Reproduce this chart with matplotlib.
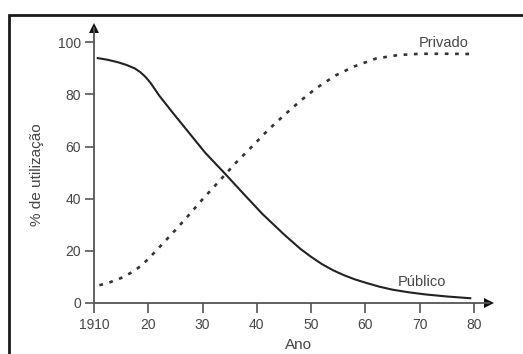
import matplotlib
matplotlib.use("Agg")
import matplotlib.pyplot as plt
from matplotlib.lines import Line2D

# Share of use (%) over the years, public vs private
anos_publico = [1910.5, 1912.5, 1914.5, 1916, 1917.5, 1918.5, 1919.5, 1920.5,
                1922, 1924.5, 1927.5, 1930.5, 1934, 1937.5, 1941, 1945, 1948,
                1950, 1952, 1954, 1956, 1958, 1960, 1962.5, 1965, 1968,
                1971, 1975, 1979.5]
publico = [94.0, 93.3, 92.3, 91.3, 90.0, 88.6, 86.7, 84.2,
           79.6, 73.0, 65.3, 57.6, 49.9, 42.0, 34.2, 26.3, 20.8,
           17.7, 14.9, 12.6, 10.7, 9.1, 7.8, 6.3, 5.1, 4.1,
           3.3, 2.5, 1.8]

anos_privado = [1911, 1913, 1915, 1917, 1918.5, 1920, 1922.5, 1925, 1927.5,
                1930, 1933, 1936, 1939, 1942, 1945, 1948, 1951, 1954.5,
                1958, 1962, 1966, 1970, 1975, 1980]
privado = [6.8, 8.0, 9.6, 11.8, 14.0, 16.9, 22.4, 28.0, 33.8,
           39.8, 46.6, 53.5, 59.8, 66.2, 72.0, 77.5, 82.5, 87.3,
           90.8, 93.8, 95.1, 95.6, 95.6, 95.5]

x_ticks = [1910, 1920, 1930, 1940, 1950, 1960, 1970, 1980]
x_tick_labels = ["1910", "20", "30", "40", "50", "60", "70", "80"]
y_ticks = [0, 20, 40, 60, 80, 100]

plt.rcParams['font.family'] = ['Liberation Sans', 'DejaVu Sans']

W, H = 523, 354
fig = plt.figure(figsize=(W / 100, H / 100), dpi=100)
fig.patch.set_facecolor('white')

# plot area: origin at (94, 303) px, 5.4286 px/year, 2.607 px per %
ax = fig.add_axes([94 / W, 51 / H, 395 / W, 275 / H])
ax.set_xlim(1910, 1910 + 395 / 5.4286)
ax.set_ylim(0, 275 / 2.607)
ax.set_facecolor('none')

axis_color = '#555555'
text_color = '#454545'
for side in ('top', 'right'):
    ax.spines[side].set_visible(False)
for side in ('left', 'bottom'):
    ax.spines[side].set_color(axis_color)
    ax.spines[side].set_linewidth(1.3)

ax.set_xticks(x_ticks)
ax.set_xticklabels(x_tick_labels)
ax.set_yticks(y_ticks)
ax.tick_params(axis='both', direction='out', width=1.2, color=axis_color,
               labelsize=10, labelcolor=text_color)
ax.tick_params(axis='x', length=7, pad=4)
ax.tick_params(axis='y', length=6.5, pad=3)

# arrowheads at the ends of the axes
x0, x1 = ax.get_xlim()
y0, y1 = ax.get_ylim()
ax.plot([x0], [y1], marker='^', ms=7.5, color='#111111', clip_on=False,
        markeredgewidth=0)
ax.plot([x1], [y0], marker='>', ms=7.5, color='#111111', clip_on=False,
        markeredgewidth=0)

ax.plot(anos_publico, publico, color='#222222', lw=1.5,
        solid_capstyle='butt', solid_joinstyle='round')
ax.plot(anos_privado, privado, color='#333333', lw=1.9,
        linestyle=(0, (1.4, 2.5)), dash_capstyle='butt')

ax.text(1969.9, 99.7, 'Privado', ha='left', va='center', fontsize=10.5,
        color=text_color)
ax.text(1966.0, 8.0, 'Público', ha='left', va='center', fontsize=10.5,
        color=text_color)

fig.text(37 / W, 1 - 175 / H, '% de utilização', rotation=90,
         ha='center', va='center', fontsize=11, color=text_color)
fig.text(298 / W, 2 / H, 'Ano', ha='center', va='bottom', fontsize=11,
         color=text_color)

# surrounding frame (left and top edges)
fig.add_artist(Line2D([8.5 / W, 8.5 / W, 1.02], [-0.02, 1 - 14.7 / H, 1 - 14.7 / H],
                      transform=fig.transFigure, color='#1a1a1a', lw=2.0,
                      solid_joinstyle='miter'))

fig.savefig('out.png', dpi=100)
